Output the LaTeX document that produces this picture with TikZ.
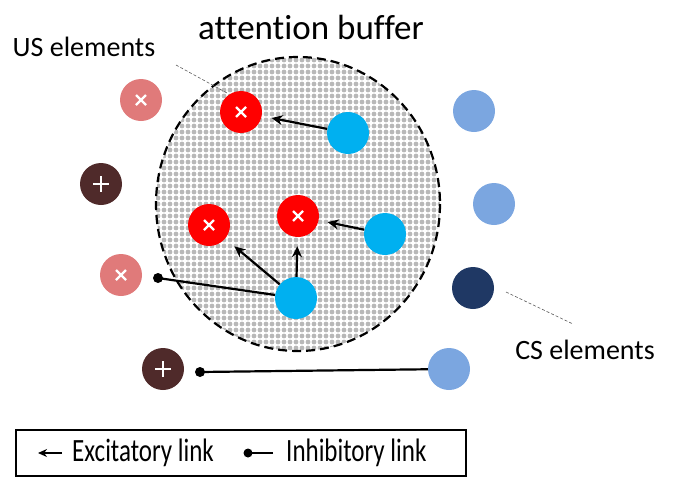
\documentclass[tikz,border=0pt]{standalone}
\usepackage{fontspec}
\setmainfont{Carlito}[Ligatures={NoCommon}]
\usetikzlibrary{arrows.meta,calc}
\definecolor{usred}{HTML}{FF0000}
\definecolor{uspink}{HTML}{E07A7A}
\definecolor{usbrown}{HTML}{4F2A2A}
\definecolor{cscyan}{HTML}{00B0F0}
\definecolor{cslight}{HTML}{7BA6E0}
\definecolor{csnavy}{HTML}{1F3864}
\definecolor{dotgray}{HTML}{B8B8B8}
\tikzset{
  elem/.style={circle, minimum size=42pt, inner sep=0pt, draw=none},
  excite/.style={line width=2.2pt, -{Stealth[length=11pt,width=10pt]}},
  inhib/.style={line width=2.2pt},
  leader/.style={line width=0.6pt, densely dashed, gray!70!black},
  xmark/.style={white, line width=2.4pt},
  pmark/.style={white, line width=2.8pt},
  legtext/.style={anchor=west, inner sep=0pt, font=\fontsize{25}{30}\selectfont},
}
\begin{document}
\begin{tikzpicture}[x=1pt,y=-1pt]
\useasboundingbox (0,0) rectangle (679,490);
% attention buffer
\begin{scope}
\clip (298,204) ellipse [x radius=142, y radius=147];
\foreach \i in {0,...,48} {\foreach \j in {0,...,50} {\fill[dotgray] (152+6*\i, 54+6*\j) circle[radius=2.4];}}
\end{scope}
\draw[line width=2.2pt, dash pattern=on 9pt off 5pt] (298,204) ellipse [x radius=142, y radius=147];
\node[font=\fontsize{35}{40}\selectfont] (title) at (311,27) {attention buffer};
\node[font=\fontsize{28}{32}\selectfont] (uslab) at (84,47) {US elements};
\node[font=\fontsize{28}{32}\selectfont] (cslab) at (585,350) {CS elements};
\coordinate (usl1) at (176,65); \coordinate (usl2) at (227,93);
\draw[leader] (usl1) -- (usl2);
\coordinate (csl1) at (506,292); \coordinate (csl2) at (573,324);
\draw[leader] (csl1) -- (csl2);
% US elements
\node[elem, fill=uspink] (us1) at (141,100) {};
\node[elem, fill=usbrown] (us2) at (101,184) {};
\node[elem, fill=uspink] (us3) at (121,275) {};
\node[elem, fill=usbrown] (us4) at (163,369) {};
\node[elem, fill=usred] (r1) at (241,112) {};
\node[elem, fill=usred] (r2) at (209,225) {};
\node[elem, fill=usred] (r3) at (298,216) {};
\foreach \n in {us1,us3,r1,r2,r3} {
  \draw[xmark] ($(\n)+(-5,-5)$) -- ($(\n)+(5,5)$);
  \draw[xmark] ($(\n)+(-5,5)$) -- ($(\n)+(5,-5)$);
}
\foreach \n in {us2,us4} {
  \draw[pmark] ($(\n)+(-8,0)$) -- ($(\n)+(8,0)$);
  \draw[pmark] ($(\n)+(0,-8)$) -- ($(\n)+(0,8)$);
}
% CS elements
\node[elem, fill=cscyan] (c1) at (348,133) {};
\node[elem, fill=cscyan] (c2) at (385,234) {};
\node[elem, fill=cscyan] (c3) at (296,298) {};
\node[elem, fill=cslight] (b1) at (474,111) {};
\node[elem, fill=cslight] (b2) at (494,204) {};
\node[elem, fill=csnavy] (b3) at (473,288) {};
\node[elem, fill=cslight] (b4) at (449,369) {};
% links
\draw[excite, shorten >=10pt] (c1) -- (r1);
\draw[excite, shorten >=9pt] (c2) -- (r3);
\draw[excite, shorten >=9pt] (c3) -- (r3);
\draw[excite, shorten >=12pt] (c3) -- (r2);
\coordinate (d1) at (158,278);
\coordinate (d2) at (200,372);
\draw[inhib] (c3) -- (d1);
\fill (d1) circle[radius=5];
\draw[inhib] (b4) -- (d2);
\fill (d2) circle[radius=5];
% legend
\node[draw, line width=1.6pt, minimum width=450pt, minimum height=46pt, inner sep=0pt] (legend) at (241,453) {};
\coordinate (la1) at (62,453); \coordinate (la2) at (38,453);
\draw[line width=1.6pt, -{Stealth[length=9pt,width=8pt]}] (la1) -- (la2);
\node[legtext] (ltx1) at (72,453) {\scalebox{1}[1.3]{Excitatory link}};
\coordinate (lb1) at (248,453); \coordinate (lb2) at (273,453);
\draw[line width=1.6pt] (lb2) -- (lb1);
\fill (lb1) circle[radius=4.5];
\node[legtext] (ltx2) at (286,453) {\scalebox{1}[1.3]{Inhibitory link}};
\end{tikzpicture}
\end{document}
